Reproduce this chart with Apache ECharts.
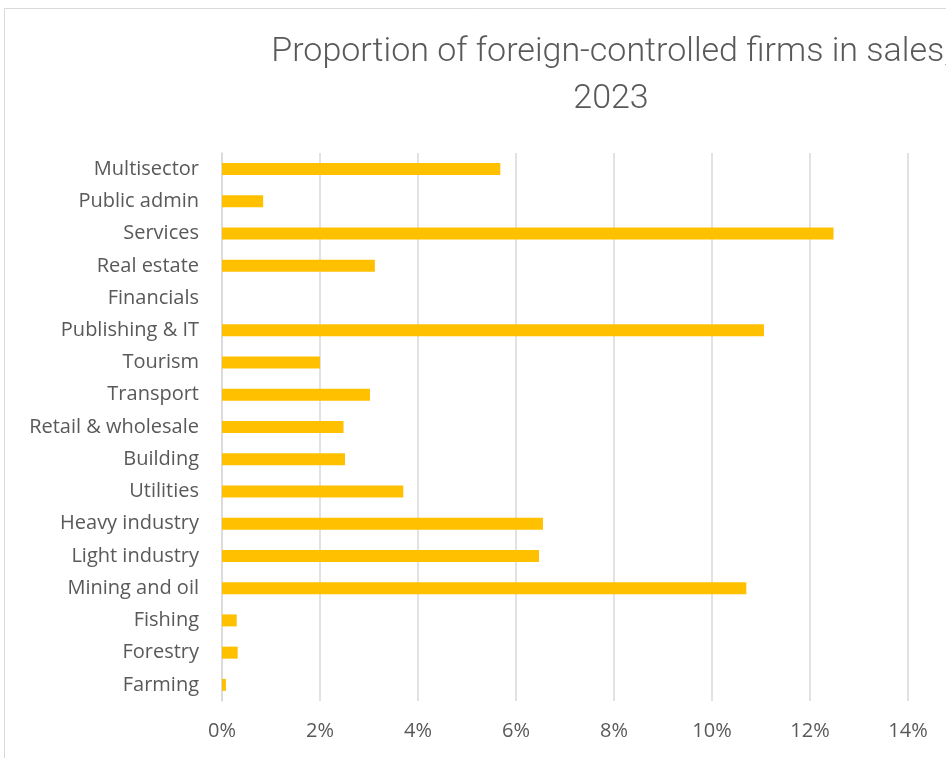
<!DOCTYPE html>
<html>
<head>
<meta charset="utf-8">
<style>
  html, body { margin: 0; padding: 0; background: #fff; }
  #chart { width: 946px; height: 758px; }
</style>
<script src="https://cdn.jsdelivr.net/npm/echarts@6/dist/echarts.min.js"></script>
</head>
<body>
<div id="chart"></div>
<script>
  // bottom to top, as drawn on the category axis
  var sectors = ['Farming', 'Forestry', 'Fishing', 'Mining and oil', 'Light industry', 'Heavy industry',
    'Utilities', 'Building', 'Retail & wholesale', 'Transport', 'Tourism', 'Publishing & IT',
    'Financials', 'Real estate', 'Services', 'Public admin', 'Multisector'];
  var shares = [0.08, 0.32, 0.30, 10.70, 6.47, 6.55,
    3.70, 2.51, 2.48, 3.02, 2.00, 11.06,
    0, 3.12, 12.48, 0.84, 5.68];
  var titleLines = ['Proportion of foreign-controlled firms in sales,', '2023'];

  var chart = echarts.init(document.getElementById('chart'));
  var labelFont = '"Open Sans", "Noto Sans", sans-serif';
  var titleFont = '300 34px Roboto, sans-serif';
  chart.setOption({
    animation: false,
    backgroundColor: '#fff',
    graphic: [
      {
        type: 'rect',
        shape: { x: 4.5, y: 8.5, width: 1200, height: 900 },
        style: { fill: 'none', stroke: '#d9d9d9', lineWidth: 1 },
        silent: true
      },
      {
        type: 'text', x: 611, y: 52,
        style: { text: titleLines[0], fill: '#595959', font: titleFont, align: 'center', verticalAlign: 'middle' }
      },
      {
        type: 'text', x: 611, y: 99,
        style: { text: titleLines[1], fill: '#595959', font: titleFont, align: 'center', verticalAlign: 'middle' }
      }
    ],
    grid: { left: 222, right: 38, top: 153, bottom: 57, containLabel: false },
    xAxis: {
      type: 'value',
      min: 0, max: 14, interval: 2,
      axisLine: { show: false },
      axisTick: { show: false },
      splitLine: { lineStyle: { color: '#d9d9d9', width: 1.5 } },
      axisLabel: { formatter: '{value}%', color: '#595959', fontSize: 20, fontFamily: labelFont, margin: 20 }
    },
    yAxis: {
      type: 'category',
      data: sectors,
      axisLine: { show: true, lineStyle: { color: '#d9d9d9', width: 1.5 } },
      axisTick: { show: false },
      axisLabel: { color: '#595959', fontSize: 20, fontFamily: labelFont, margin: 23 }
    },
    series: [{
      type: 'bar',
      data: shares,
      barWidth: 12,
      itemStyle: { color: '#FFC000' }
    }]
  });
</script>
</body>
</html>
